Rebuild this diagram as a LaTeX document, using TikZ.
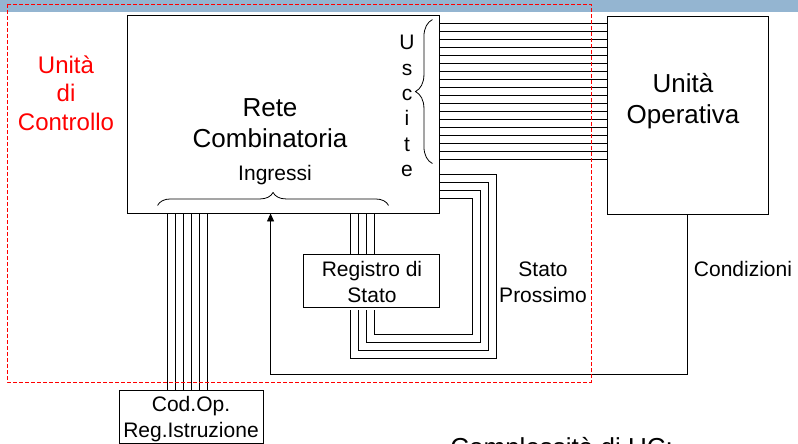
\documentclass[tikz,border=0pt]{standalone}
\usepackage{fontspec}
\setmainfont{Liberation Sans}
\usetikzlibrary{calc,arrows.meta,decorations.pathreplacing}
\begin{document}
\begin{tikzpicture}[x=1pt,y=-1pt,
  line width=0.8pt,
  box/.style={draw=black,line width=0.9pt,rectangle,inner sep=0pt,minimum width=#1},
  bigtext/.style={font=\fontsize{26}{31}\selectfont,align=center,inner sep=0pt},
  midtext/.style={font=\fontsize{21}{26}\selectfont,align=center,inner sep=0pt},
  redtext/.style={font=\fontsize{24}{28.5}\selectfont,align=center,inner sep=0pt,text=red},
  wire/.style={draw=black,line width=0.8pt},
  bracestyle/.style={draw=black,line width=0.8pt,decorate,decoration={brace,amplitude=#1}}
]
\useasboundingbox (0,0) rectangle (798,444);
\fill[fill={rgb,255:red,148;green,181;blue,209}] (0,0) rectangle (798,12);
% boxes
\node[box=312pt,minimum height=198pt] (rc) at (283,114) {};
\node[box=161pt,minimum height=198pt] (uo) at (687.5,115) {};
\node[box=136pt,minimum height=53pt] (rs) at (371,280.5) {};
\node[box=144pt,minimum height=53pt] (co) at (191,416.5) {};
% texts
\node[bigtext] (rct) at (270,123) {Rete\\Combinatoria};
\node[bigtext] (uot) at (683,101) {Unità\\Operativa};
\node[redtext] (uct) at (66,93) {Unità\\di\\Controllo};
\node[font=\fontsize{21}{25.4}\selectfont,align=center,inner sep=0pt] (usc) at (407,106) {U\\s\\c\\i\\t\\e};
\node[midtext,anchor=base] (ing) at (275,180) {Ingressi};
\node[midtext] (rst) at (372,281.5) {Registro di\\Stato};
\node[midtext] (cot) at (191,419) {Cod.Op.\\Reg.Istruzione};
\node[midtext] (spt) at (543,282) {Stato\\Prossimo};
\node[midtext,anchor=base] (cdt) at (743,276) {Condizioni};
\node[bigtext,anchor=base west] (cx) at (450,456) {Complessità di UC:};
% braces
\draw[bracestyle=13pt] ($(rc.south west)+(31,-8)$) -- ($(rc.south west)+(262,-8)$);
\draw[bracestyle=17pt] ($(rc.north east)+(-7,149)$) -- ($(rc.north east)+(-7,5)$);
% uscite wires
\foreach \k in {0,...,17}{
  \pgfmathsetmacro\dy{9+8*\k}
  \coordinate (u\k) at ($(rc.north east)+(0,\dy)$);
  \draw[wire] (u\k) -- (u\k -| uo.west);
}
% stato prossimo wires
\foreach \k/\h/\dx/\dd/\xr in {0/39/57/51/48,1/31/49/43/56,2/23/41/35/64,3/15/33/27/72}{
  \coordinate (a\k) at ($(rc.south east)+(0,-\h)$);
  \coordinate (p\k) at ($(rc.south east |- rs.south)+(\dx,\dd)$);
  \coordinate (b\k) at ($(rs.south west)+(\xr,3)$);
  \draw[wire] (a\k) -| (p\k) -| (b\k);
  \coordinate (t\k) at ($(rs.north west)+(\xr,0)$);
  \draw[wire] (t\k) -- (t\k |- rc.south);
}
% cod.op wires
\foreach \k in {0,...,5}{
  \pgfmathsetmacro\dx{49+8*\k}
  \coordinate (c\k) at ($(co.north west)+(\dx,0)$);
  \draw[wire] (c\k) -- (c\k |- rc.south);
}
% condizioni
\coordinate (cc) at ($(uo.south)+(0,160)$);
\coordinate (ae) at ($(rc.south west)+(144,0)$);
\draw[wire,-{Triangle[length=8pt,width=7pt]}] (uo.south) -- (cc) -| (ae);
% dashed region
\draw[red,line width=0.8pt,dash pattern=on 4pt off 2pt] (7,4) rectangle (591,382);
\end{tikzpicture}
\end{document}
